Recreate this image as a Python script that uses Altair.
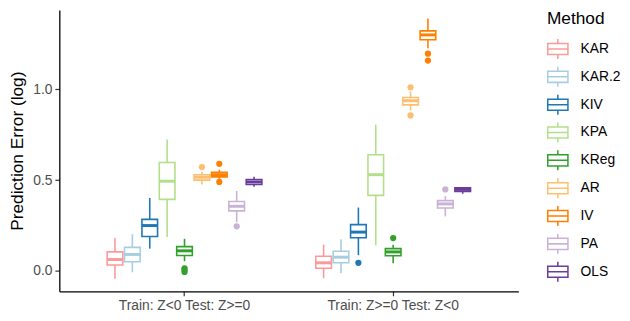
import altair as alt
import pandas as pd

methods = ["KAR", "KAR.2", "KIV", "KPA", "KReg", "AR", "IV", "PA", "OLS"]
colors = ["#FB9A99", "#A6CEE3", "#1F78B4", "#B2DF8A", "#33A02C",
          "#FDBF6F", "#FF7F00", "#CAB2D6", "#6A3D9A"]
scenarios = ["Train: Z<0 Test: Z>=0", "Train: Z>=0 Test: Z<0"]

# Scenario 1 box statistics (per method)
s1_lo = [-0.043, -0.007, 0.123, 0.187, 0.054, 0.476, 0.507, 0.268, 0.463]
s1_q1 = [0.033, 0.051, 0.190, 0.394, 0.085, 0.500, 0.518, 0.331, 0.476]
s1_med = [0.063, 0.091, 0.250, 0.494, 0.111, 0.516, 0.530, 0.356, 0.490]
s1_q3 = [0.105, 0.130, 0.284, 0.597, 0.134, 0.530, 0.543, 0.382, 0.503]
s1_hi = [0.181, 0.203, 0.402, 0.724, 0.177, 0.545, 0.557, 0.440, 0.518]

# Scenario 2 box statistics (per method)
s2_lo = [-0.040, -0.012, 0.087, 0.141, 0.042, 0.883, 1.226, 0.301, 0.425]
s2_q1 = [0.015, 0.045, 0.183, 0.416, 0.084, 0.914, 1.272, 0.347, 0.438]
s2_med = [0.045, 0.076, 0.214, 0.530, 0.105, 0.937, 1.299, 0.369, 0.449]
s2_q3 = [0.081, 0.109, 0.255, 0.640, 0.123, 0.955, 1.321, 0.387, 0.458]
s2_hi = [0.145, 0.174, 0.349, 0.805, 0.145, 0.988, 1.389, 0.412, 0.461]

# Outliers
out_scenario = [0, 0, 0, 0, 0, 0, 0, 1, 1, 1, 1, 1, 1, 1]
out_method = ["KReg", "KReg", "KReg", "AR", "IV", "IV", "PA",
              "KIV", "KReg", "AR", "AR", "IV", "IV", "PA"]
out_value = [0.015, 0.005, -0.005, 0.572, 0.590, 0.490, 0.246,
             0.045, 0.181, 1.011, 0.856, 1.196, 1.158, 0.449]

rows = []
for si, (lo, q1, md, q3, hi) in enumerate([(s1_lo, s1_q1, s1_med, s1_q3, s1_hi),
                                          (s2_lo, s2_q1, s2_med, s2_q3, s2_hi)]):
    for i, m in enumerate(methods):
        rows.append({"Scenario": scenarios[si], "Method": m, "lo": lo[i], "q1": q1[i],
                     "med": md[i], "q3": q3[i], "hi": hi[i]})
summary = pd.DataFrame(rows)
outliers = pd.DataFrame({"Scenario": [scenarios[s] for s in out_scenario],
                         "Method": out_method, "val": out_value})

FONT = "Liberation Sans"
yscale = alt.Scale(domain=[-0.112, 1.436], nice=False, zero=False)
xenc = alt.X("Scenario:N", sort=scenarios, title=None,
             scale=alt.Scale(paddingInner=0.25, paddingOuter=0.225),
             axis=alt.Axis(labelAngle=0, labelFontSize=14, labelColor="#4D4D4D",
                           tickSize=4.5, labelPadding=3))
xoff = alt.XOffset("Method:N", sort=methods,
                   scale=alt.Scale(paddingInner=0.1, paddingOuter=0.05))
cscale = alt.Scale(domain=methods, range=colors)
# legend key: box outline (ring), median bar and whiskers drawn as filled shapes
legend_path = ("M-1,-0.58H1V0.58H-1Z "
               "M-0.86,-0.44V0.44H0.86V-0.44Z "
               "M-0.86,-0.07H0.86V0.07H-0.86Z "
               "M-0.07,-0.92H0.07V-0.58H-0.07Z "
               "M-0.07,0.58H0.07V0.92H-0.07Z")
legend = alt.Legend(title="Method", orient="none", legendX=494, legendY=0,
                    symbolType=legend_path, symbolSize=484, symbolStrokeWidth=0,
                    labelFontSize=14, titleFontSize=17.5,
                    titleFontWeight="normal", titleColor="black", labelColor="black",
                    rowPadding=6.2, labelOffset=12, titlePadding=11, padding=0)

base = alt.Chart(summary).encode(x=xenc, xOffset=xoff)

whisk = base.mark_rule(strokeWidth=1.6).encode(
    y=alt.Y("lo:Q", scale=yscale,
            axis=alt.Axis(values=[0, 0.5, 1.0], format=".1f", title="Prediction Error (log)",
                          labelFontSize=14, labelColor="#4D4D4D", tickSize=4.5,
                          labelPadding=3, titleFontSize=17.5, titleFontWeight="normal",
                          titleColor="black", titleX=-42, titleY=142.5,
                          titleAngle=-90, titleAlign="center", titleBaseline="middle")),
    y2="hi:Q",
    stroke=alt.Stroke("Method:N", scale=cscale, sort=methods, legend=legend),
)
box = base.mark_bar(filled=False, fill="white", fillOpacity=1, strokeWidth=1.6).encode(
    y=alt.Y("q1:Q", scale=yscale), y2="q3:Q",
    color=alt.Color("Method:N", scale=cscale, sort=methods, legend=None),
)
med = base.mark_tick(thickness=3, size=15.85, opacity=1).encode(
    y=alt.Y("med:Q", scale=yscale),
    color=alt.Color("Method:N", scale=cscale, sort=methods, legend=None),
)
pts = alt.Chart(outliers).mark_circle(size=40, opacity=1).encode(
    x=xenc, xOffset=xoff,
    y=alt.Y("val:Q", scale=yscale),
    color=alt.Color("Method:N", scale=cscale, sort=methods, legend=None),
)

chart = alt.layer(whisk, box, med, pts).properties(
    width=465, height=285,
    autosize=alt.AutoSizeParams(type="none"),
    padding={"left": 52, "top": 0, "right": 105, "bottom": 28},
).configure_view(stroke=None).configure_axis(
    domainColor="black", domainWidth=1.3, tickColor="#333333", tickWidth=1.2,
    grid=False, labelFont=FONT, titleFont=FONT,
).configure_legend(labelFont=FONT, titleFont=FONT)

chart.save("out.html", embed_options={"renderer": "svg", "actions": False})
